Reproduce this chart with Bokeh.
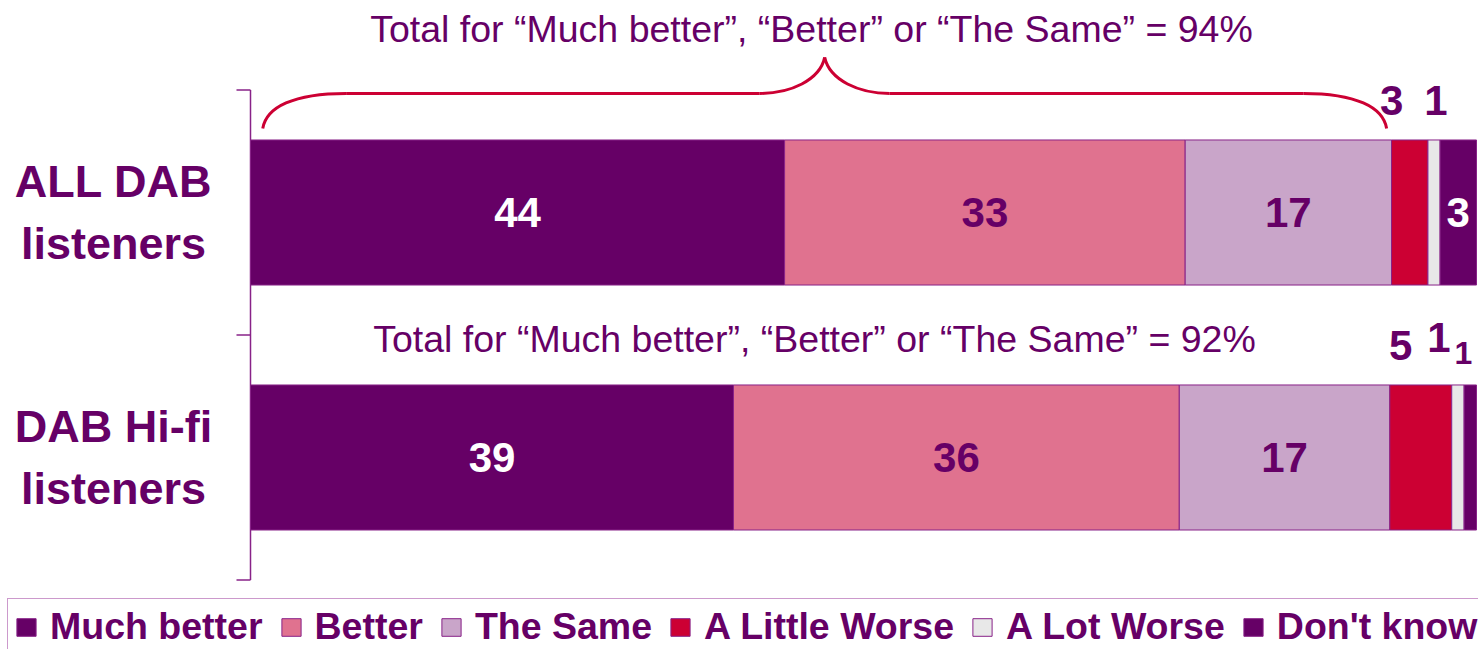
from bokeh.plotting import figure
from bokeh.models import Range1d, ColumnDataSource, Legend, LegendItem, Label
from bokeh.embed import file_html
from bokeh.resources import INLINE
from bokeh.core.properties import value

# ---------------- data ----------------
categories = ["ALL DAB\nlisteners", "DAB Hi-fi\nlisteners"]
series = ["Much better", "Better", "The Same", "A Little Worse", "A Lot Worse", "Don't know"]
much_better = [44, 39]
better = [33, 36]
the_same = [17, 17]
little_worse = [3, 5]
lot_worse = [1, 1]
dont_know = [3, 1]
totals_text = ["Total for “Much better”, “Better” or “The Same” = 94%",
               "Total for “Much better”, “Better” or “The Same” = 92%"]

# ---------------- style ----------------
colors = ["#660066", "#E0728F", "#C9A5C9", "#CC0033", "#E8E8E8", "#660066"]
text_col = "#660066"
axis_col = "#882288"
label_cols = ["white", text_col, text_col, text_col, text_col, "white"]
# where each value label goes: inside the bar ("in") or above it ("out")
placement = [["in", "in", "in", "out", "out", "in"],
             ["in", "in", "in", "out", "out", "out"]]
out_xoff = [[0, 0, 0, -18, 2, 0], [0, 0, 0, -20, -19, -7]]
out_yoff = [[0, 0, 0, 0, 0, 0], [0, 0, 0, 0, -8, 7]]
out_size = [[42, 42, 42, 42, 42, 42], [42, 42, 42, 42, 42, 32]]
FONT = "Liberation Sans"

raw = [much_better, better, the_same, little_worse, lot_worse, dont_know]
ncat = len(categories)
totals = [sum(r[i] for r in raw) for i in range(ncat)]
pct = [[r[i] / totals[i] * 100 for i in range(ncat)] for r in raw]   # pct[series][cat]

keys = ["s%d" % k for k in range(len(series))]
data = {"y": list(range(ncat))}
for k, key in enumerate(keys):
    data[key] = pct[k]
src = ColumnDataSource(data)

W, H = 1478, 649
PX = 12.26  # pixels per percent
p = figure(width=W, height=H, output_backend="svg", toolbar_location=None,
           x_range=Range1d(-250 / PX, 100 + 2 / PX), y_range=Range1d(1.7837, -0.8653),
           x_axis_location=None, y_axis_location=None,
           min_border_left=0, min_border_right=0,
           min_border_top=0, min_border_bottom=0, tools="")
p.outline_line_color = None
p.xgrid.visible = False
p.ygrid.visible = False
p.background_fill_color = "white"

# category axis (line with ticks between categories)
tick_len = 14 / PX
ticks = [i - 0.5 for i in range(ncat + 1)]
p.segment(x0=[0], y0=[ticks[0]], x1=[0], y1=[ticks[-1]], line_color=axis_col, line_width=1.5)
p.segment(x0=[-tick_len] * len(ticks), y0=ticks, x1=[0] * len(ticks), y1=ticks,
          line_color=axis_col, line_width=1.5)

BAR_H = 0.592
rends = p.hbar_stack(keys, y="y", height=BAR_H, color=colors, source=src,
                     line_color=axis_col, line_width=1)

# value labels
in_x, in_y, in_t, in_c = [], [], [], []
out_x, out_y, out_t, out_xo, out_yo, out_fs = [], [], [], [], [], []
for i in range(ncat):
    left = 0.0
    for k in range(len(series)):
        w = pct[k][i]
        cx = left + w / 2
        if placement[i][k] == "in":
            in_x.append(cx); in_y.append(i); in_t.append(str(raw[k][i])); in_c.append(label_cols[k])
        else:
            out_x.append(cx); out_y.append(i - 0.457); out_t.append(str(raw[k][i]))
            out_xo.append(out_xoff[i][k]); out_yo.append(out_yoff[i][k]); out_fs.append("%dpx" % out_size[i][k])
        left += w

p.text(x=in_x, y=in_y, text=in_t, text_color=in_c, text_font=value(FONT),
       text_font_style="bold", text_font_size="42px", text_align="center",
       text_baseline="middle")
p.text(x=out_x, y=out_y, text=out_t, x_offset=out_xo, y_offset=out_yo,
       text_font_size=out_fs, text_color=text_col, text_font=value(FONT),
       text_font_style="bold", text_align="center", text_baseline="middle")

# totals text
tot_y = [-0.747, 0.518]
tot_x = [45.76, 46.0]
p.text(x=tot_x, y=tot_y, text=totals_text, text_color=text_col, text_font=value(FONT),
       text_font_size="37.5px", text_align="center", text_baseline="alphabetic")

# brace over first bar spanning first three segments
cum3 = pct[0][0] + pct[1][0] + pct[2][0]
x0, x1 = 1.0, cum3 - 0.4
xm = (x0 + x1) / 2
yEnd, yFlat, yTip = -0.343, -0.486, -0.633
BR = "#CC0033"
p.bezier(x0=[x0, xm - 5.3, xm, x1],
         y0=[yEnd, yFlat, yTip, yEnd],
         x1=[x0 + 6.8, xm, xm + 5.3, x1 - 6.8],
         y1=[yFlat, yTip, yFlat, yFlat],
         cx0=[x0 + 0.3, xm - 2.8, xm + 0.4, x1 - 0.3],
         cy0=[-0.43, yFlat, -0.54, -0.43],
         cx1=[x0 + 2.5, xm - 0.4, xm + 2.8, x1 - 2.5],
         cy1=[yFlat, -0.54, yFlat, yFlat],
         line_color=BR, line_width=3)
p.segment(x0=[x0 + 6.8, xm + 5.3], y0=[yFlat, yFlat], x1=[xm - 5.3, x1 - 6.8], y1=[yFlat, yFlat],
          line_color=BR, line_width=3)

# category labels
for i, c in enumerate(categories):
    p.add_layout(Label(x=-137 / PX, y=i, text=c, text_align="center", text_baseline="middle",
                       text_font=FONT, text_font_style="bold", text_font_size="45px",
                       text_color=text_col, text_line_height=1.2))

items = [LegendItem(label=s, renderers=[r]) for s, r in zip(series, rends)]
leg = Legend(items=items, orientation="horizontal", location=(7, -6),
             label_text_font=FONT, label_text_font_style="bold", label_text_font_size="37.5px",
             label_text_color=text_col, glyph_width=24, glyph_height=22,
             label_standoff=12, spacing=16, padding=6, margin=0,
             border_line_color="#993399", border_line_width=1.5,
             background_fill_alpha=1)
p.add_layout(leg, "center")

open("out.html", "w").write(file_html(p, INLINE))
